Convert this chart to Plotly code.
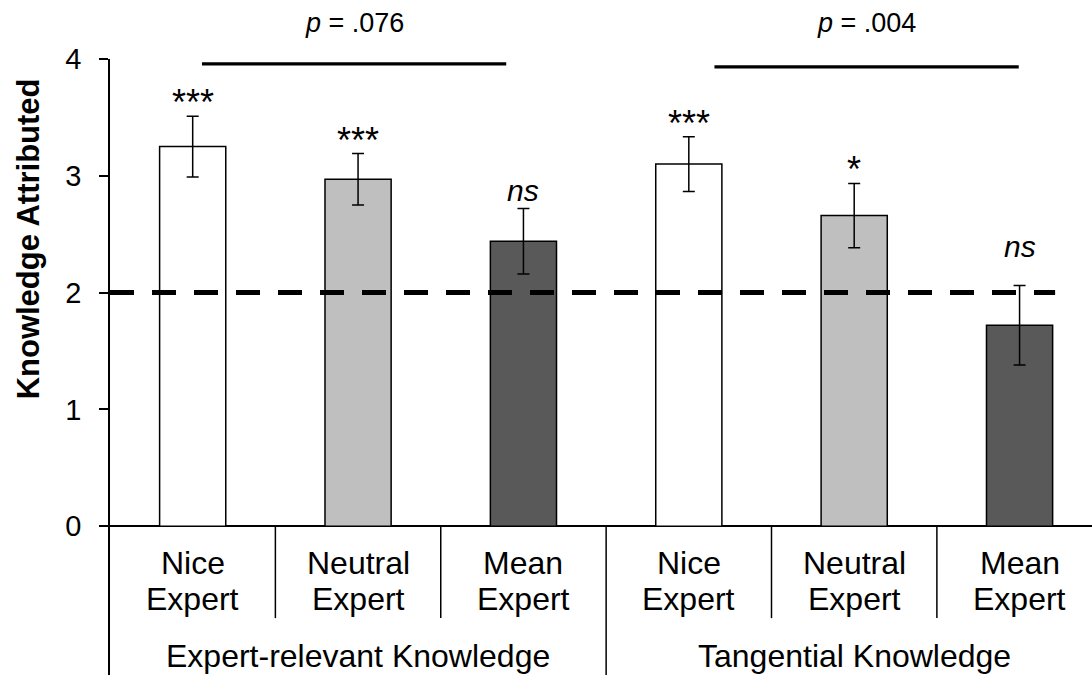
import plotly.graph_objects as go

# Mean knowledge attributed per condition, with standard errors
groups = ["Expert-relevant Knowledge", "Tangential Knowledge"]
conditions = ["Nice<br>Expert", "Neutral<br>Expert", "Mean<br>Expert"]
means = [3.25, 2.97, 2.44, 3.10, 2.66, 1.72]
errors = [0.26, 0.22, 0.28, 0.235, 0.275, 0.34]
sig_labels = ["***", "***", "ns", "***", "*", "ns"]
p_values = ["p = .076", "p = .004"]
midpoint = 2

FONT = "Liberation Sans, Arial, sans-serif"
fills = ["#ffffff", "#bfbfbf", "#595959"]

x_pos = list(range(len(means)))
bar_colors = [fills[i % 3] for i in x_pos]

fig = go.Figure()
fig.add_trace(go.Bar(
    x=x_pos, y=means, width=0.4,
    marker=dict(color=bar_colors, line=dict(color="black", width=1.5)),
    error_y=dict(type="data", array=errors, color="black", thickness=1.5, width=6),
    showlegend=False,
))

# Midpoint reference line
fig.add_shape(type="line", xref="x", yref="y", x0=-0.5, x1=5.215, y0=midpoint, y1=midpoint,
              line=dict(color="black", width=5, dash="24px,18px"), layer="above")

annotations = []

# Significance markers above each error bar
label_raise = [0, 0, 0, 0, 0, 0.18]
for i, (m, e, s) in enumerate(zip(means, errors, sig_labels)):
    italic = s == "ns"
    annotations.append(dict(
        x=i, y=m + e + label_raise[i], xref="x", yref="y",
        text=f"<i>{s}</i>" if italic else s,
        showarrow=False, yanchor="bottom", yshift=0 if italic else -9,
        font=dict(family=FONT, size=36 if not italic else 30, color="black"),
    ))

# Comparison brackets with p values
brackets = [(0.056, 1.896, 3.958), (3.155, 4.995, 3.932)]
for (x0, x1, yb), p in zip(brackets, p_values):
    fig.add_shape(type="line", xref="x", yref="y", x0=x0, x1=x1, y0=yb, y1=yb,
                  line=dict(color="black", width=3.3))
    pt, rest = p.split(" ", 1)
    annotations.append(dict(
        x=(x0 + x1) / 2, y=1.058, xref="x", yref="paper", yanchor="middle",
        text=f"<i>{pt}</i> {rest}", showarrow=False,
        font=dict(family=FONT, size=27, color="black"),
    ))

# Category labels beneath the bars
for i in x_pos:
    top, bottom = conditions[i % 3].split("<br>")
    for txt, yy in ((top, -0.312), (bottom, -0.624)):
        annotations.append(dict(
            x=i, y=yy, xref="x", yref="y", text=txt, showarrow=False,
            yanchor="middle", font=dict(family=FONT, size=32, color="black"),
        ))

# Group labels
for gi, g in enumerate(groups):
    annotations.append(dict(
        x=gi * 3 + 1, y=-1.112, xref="x", yref="y", text=g, showarrow=False,
        yanchor="middle", font=dict(family=FONT, size=32, color="black"),
    ))

# Divider lines between categories and groups
for k in range(1, 6):
    xd = k - 0.5
    y_end = -1.274 if k == 3 else -0.787
    fig.add_shape(type="line", xref="x", yref="y", x0=xd, x1=xd, y0=0, y1=y_end,
                  line=dict(color="black", width=1.5))

# Y axis title
annotations.append(dict(
    x=-0.083, y=0.708, xref="paper", yref="paper", text="<b>Knowledge Attributed</b>",
    textangle=-90, showarrow=False, xanchor="center", yanchor="middle",
    font=dict(family=FONT, size=31, color="black"),
))

fig.update_layout(
    width=1092, height=675,
    margin=dict(l=110, r=0, t=58.5, b=0),
    paper_bgcolor="white", plot_bgcolor="white",
    annotations=annotations,
    xaxis=dict(range=[-0.5, 5.438], showticklabels=False, showgrid=False,
               zeroline=False, showline=False, fixedrange=True),
    yaxis=dict(range=[-1.274, 4], tickvals=[0, 1, 2, 3, 4], showgrid=False,
               showline=True, linecolor="black", linewidth=1.5,
               ticks="outside", ticklen=9, tickwidth=1.5, tickcolor="black",
               ticklabelstandoff=12,
               zeroline=True, zerolinecolor="black", zerolinewidth=1.5,
               tickfont=dict(family=FONT, size=29, color="black")),
)

fig.write_html("out.html")
